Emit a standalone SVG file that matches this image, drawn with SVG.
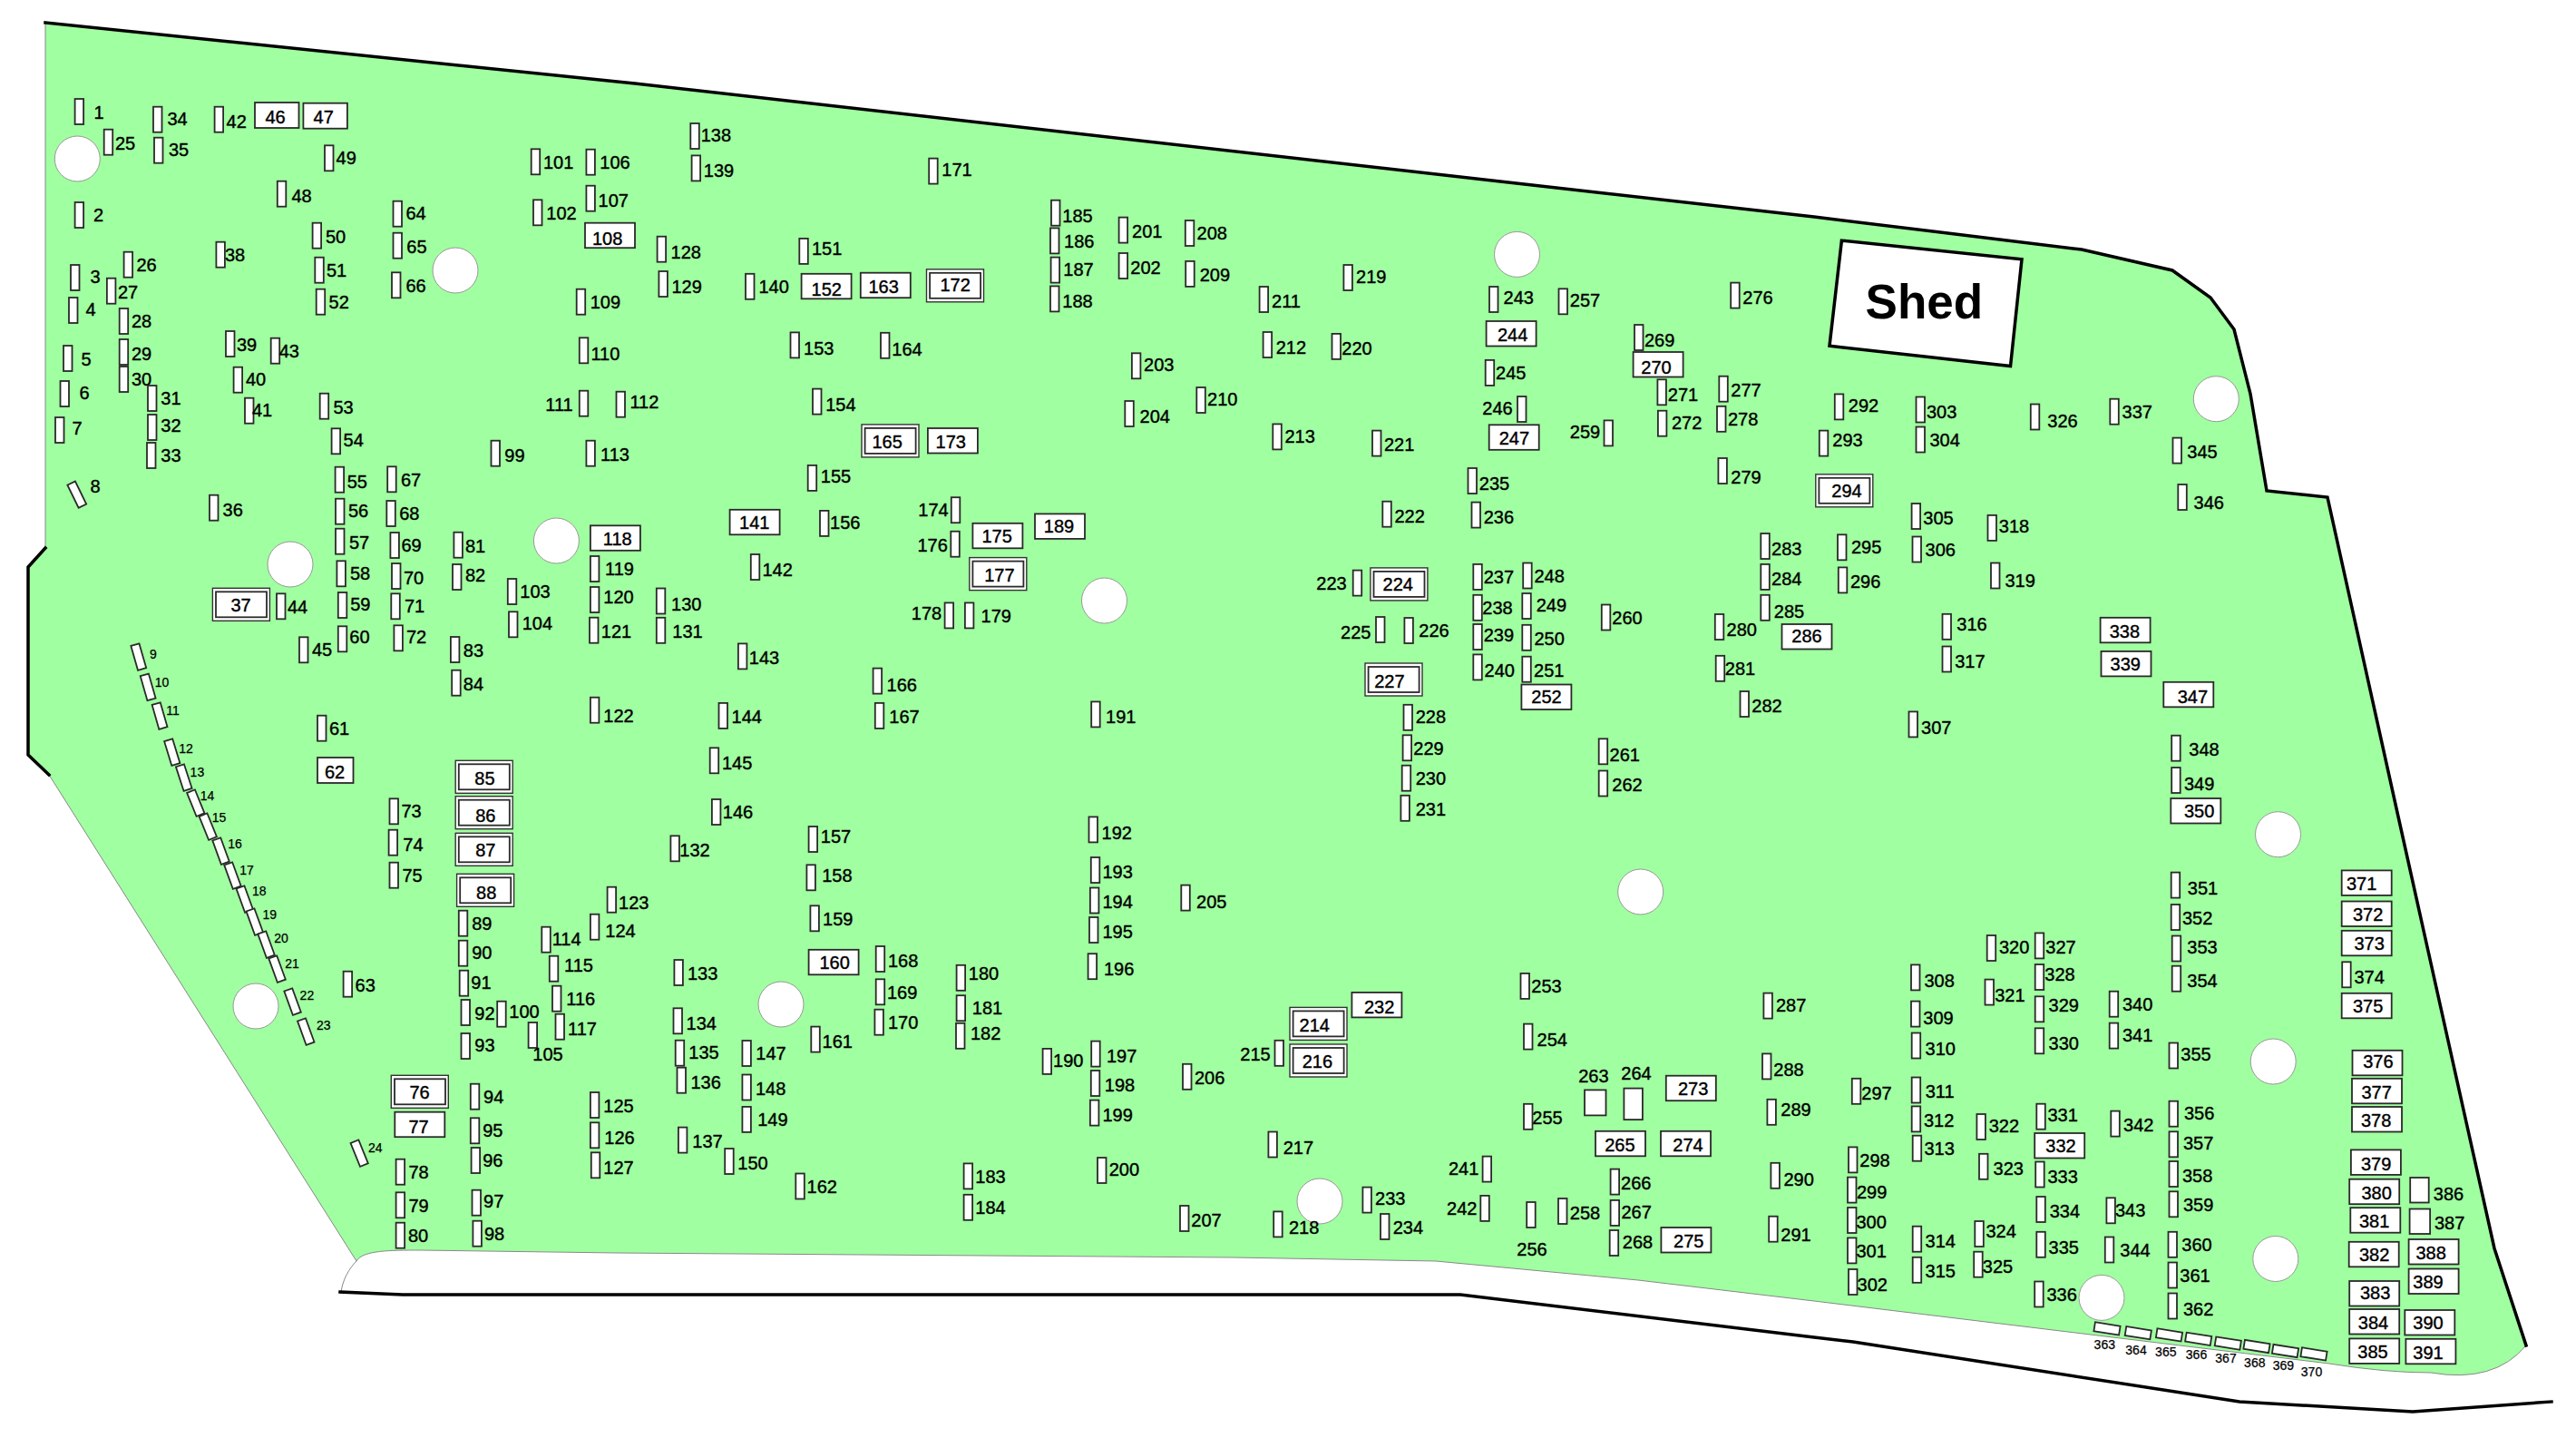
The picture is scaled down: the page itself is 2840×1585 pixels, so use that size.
<svg xmlns="http://www.w3.org/2000/svg" width="2840" height="1585" viewBox="0 0 2840 1585">
<style>
text{font-family:"Liberation Sans",Arial,sans-serif;font-size:20px;fill:#000;stroke:#000;stroke-width:.4px;text-anchor:middle}
text.m{font-size:14px;stroke-width:.25px}
rect{fill:#fff;stroke:#2a2a2a;stroke-width:1.8}
.s{width:9.5px;height:28px}
.h{width:28px;height:10px}
.b{width:55px;height:27.5px}
.o{width:63px;height:36px;stroke:#333;stroke-width:1.4}
.i{width:56px;height:28px}
circle{fill:#fff;stroke:#999;stroke-width:1}
.k{fill:none;stroke:#000;stroke-width:3.5;stroke-linecap:square}
.t{fill:none;stroke:#888;stroke-width:1}
</style>
<g id="ground">
<path d="M50,25L700,92L1654,200L2000,239L2295,275L2395,298L2437,328L2463,363L2481,434L2499,541L2566,548L2644,900L2750,1376L2785,1483Q2750,1525 2680,1513Q2630,1513 2568,1503L2000,1434L1806,1411L1583,1390L1360,1386L680,1381L464,1378C430,1378 400,1378 393,1390L54,854L31,832L31,625L50,604Z" fill="#a0ffa0"/>
<path class="t" d="M50,25L50,604M54,854L393,1390C385,1398 378,1410 376,1424M393,1390C400,1378 430,1378 464,1378L680,1381L1360,1386L1583,1390L1806,1411L2000,1434L2568,1503Q2630,1513 2680,1513Q2750,1525 2785,1483"/>
<path class="k" d="M50,25L700,92L1654,200L2000,239L2295,275L2395,298L2437,328L2463,363L2481,434L2499,541L2566,548L2644,900L2750,1376L2785,1483"/>
<path class="k" d="M50,604L31,625L31,832L54,854"/>
<path class="k" d="M375,1424L444,1427L1610,1427L2000,1474L2043,1479L2469,1545L2660,1556L2813,1545"/>
</g>
<g id="trees">
<circle cx="85.3" cy="175" r="25"/><circle cx="502" cy="298" r="25"/><circle cx="320" cy="622" r="25"/><circle cx="613.4" cy="596" r="25"/><circle cx="282" cy="1109" r="25"/><circle cx="861" cy="1107" r="25"/><circle cx="1217.5" cy="662" r="25"/><circle cx="1672.5" cy="280.4" r="25"/><circle cx="1455" cy="1324" r="25"/><circle cx="1808.7" cy="983" r="25"/><circle cx="2443.3" cy="439.7" r="25"/><circle cx="2511.5" cy="919.7" r="25"/><circle cx="2506.2" cy="1170" r="25"/><circle cx="2508.8" cy="1387.5" r="25"/><circle cx="2317" cy="1430.4" r="25"/>
</g>
<g id="shed"><path d="M2030.4,265.2L2229,285.7L2216.5,403.6L2017,381.3Z" fill="#fff" stroke="#000" stroke-width="3.5"/><text x="2121.4" y="351" style="font-size:53px;font-weight:700;stroke-width:0">Shed</text></g>
<g id="connectors"></g>
<g id="nodes">
<g id="n1"><rect class="s" x="82.6" y="109"/><text x="109" y="131">1</text></g>
<g id="n2"><rect class="s" x="82.6" y="223"/><text x="108.5" y="244">2</text></g>
<g id="n3"><rect class="s" x="78" y="292"/><text x="105" y="312">3</text></g>
<g id="n4"><rect class="s" x="76" y="328"/><text x="100" y="348">4</text></g>
<g id="n5"><rect class="s" x="70" y="381"/><text x="95" y="403">5</text></g>
<g id="n6"><rect class="s" x="66.5" y="420"/><text x="93" y="440">6</text></g>
<g id="n7"><rect class="s" x="61" y="460"/><text x="85" y="479">7</text></g>
<g id="n8"><rect class="s" x="80" y="531" transform="rotate(-26 85 545)"/><text x="105" y="543">8</text></g>
<g id="n9"><rect class="s" x="148" y="710" transform="rotate(-16 153 724)"/><text class="m" x="169" y="726">9</text></g>
<g id="n10"><rect class="s" x="158.4" y="743.3" transform="rotate(-16 163.4 757.3)"/><text class="m" x="178.6" y="757">10</text></g>
<g id="n11"><rect class="s" x="171.3" y="775" transform="rotate(-16 176.3 789)"/><text class="m" x="190.6" y="788">11</text></g>
<g id="n12"><rect class="s" x="185" y="815" transform="rotate(-17 190 829)"/><text class="m" x="205" y="830">12</text></g>
<g id="n13"><rect class="s" x="198" y="843" transform="rotate(-18 203 857)"/><text class="m" x="217.4" y="856">13</text></g>
<g id="n14"><rect class="s" x="211" y="871" transform="rotate(-22 216 885)"/><text class="m" x="228.6" y="882">14</text></g>
<g id="n15"><rect class="s" x="224.5" y="897" transform="rotate(-22 229.5 911)"/><text class="m" x="241.5" y="906">15</text></g>
<g id="n16"><rect class="s" x="238.8" y="924" transform="rotate(-20 243.8 938)"/><text class="m" x="259" y="935">16</text></g>
<g id="n17"><rect class="s" x="251.7" y="951" transform="rotate(-20 256.7 965)"/><text class="m" x="272" y="964">17</text></g>
<g id="n18"><rect class="s" x="265" y="977" transform="rotate(-20 270 991)"/><text class="m" x="285.7" y="987">18</text></g>
<g id="n19"><rect class="s" x="276" y="1002" transform="rotate(-20 281 1016)"/><text class="m" x="297.3" y="1013">19</text></g>
<g id="n20"><rect class="s" x="288.8" y="1027" transform="rotate(-20 293.8 1041)"/><text class="m" x="310" y="1039">20</text></g>
<g id="n21"><rect class="s" x="300.8" y="1054" transform="rotate(-20 305.8 1068)"/><text class="m" x="322" y="1067">21</text></g>
<g id="n22"><rect class="s" x="317.8" y="1090" transform="rotate(-20 322.8 1104)"/><text class="m" x="338.4" y="1102">22</text></g>
<g id="n23"><rect class="s" x="332.5" y="1123" transform="rotate(-20 337.5 1137)"/><text class="m" x="356.7" y="1135">23</text></g>
<g id="n24"><rect class="s" x="391.4" y="1257" transform="rotate(-22 396.4 1271)"/><text class="m" x="413.8" y="1270">24</text></g>
<g id="n25"><rect class="s" x="114.7" y="142.7"/><text x="138" y="165">25</text></g>
<g id="n26"><rect class="s" x="136.6" y="277.7"/><text x="161.6" y="299">26</text></g>
<g id="n27"><rect class="s" x="117.9" y="306.7"/><text x="141" y="329">27</text></g>
<g id="n28"><rect class="s" x="131.7" y="340"/><text x="156" y="361">28</text></g>
<g id="n29"><rect class="s" x="131.7" y="374"/><text x="156" y="397">29</text></g>
<g id="n30"><rect class="s" x="131.7" y="404"/><text x="156" y="425">30</text></g>
<g id="n31"><rect class="s" x="163" y="425"/><text x="188.4" y="446">31</text></g>
<g id="n32"><rect class="s" x="163" y="457"/><text x="188.4" y="476">32</text></g>
<g id="n33"><rect class="s" x="162" y="488"/><text x="188.4" y="509">33</text></g>
<g id="n34"><rect class="s" x="169" y="117.7"/><text x="195.5" y="138">34</text></g>
<g id="n35"><rect class="s" x="170" y="151.7"/><text x="197" y="172">35</text></g>
<g id="n36"><rect class="s" x="231" y="545.7"/><text x="256.7" y="569">36</text></g>
<g id="n37"><rect class="o" x="234.4" y="648.3"/><rect class="i" x="238" y="652.3"/><text x="265.6" y="674">37</text></g>
<g id="n38"><rect class="s" x="238.4" y="266.7"/><text x="259" y="288">38</text></g>
<g id="n39"><rect class="s" x="249" y="365"/><text x="272" y="387">39</text></g>
<g id="n40"><rect class="s" x="257.6" y="404.7"/><text x="282" y="425">40</text></g>
<g id="n41"><rect class="s" x="270" y="438.7"/><text x="289" y="459">41</text></g>
<g id="n42"><rect class="s" x="236.6" y="117.7"/><text x="260.7" y="141">42</text></g>
<g id="n43"><rect class="s" x="298.7" y="372.7"/><text x="318.8" y="394">43</text></g>
<g id="n44"><rect class="s" x="305" y="654.3"/><text x="328" y="676">44</text></g>
<g id="n45"><rect class="s" x="330" y="702.3"/><text x="355" y="723">45</text></g>
<g id="n46"><rect x="281" y="113" width="48.5" height="28"/><text x="303.6" y="136">46</text></g>
<g id="n47"><rect x="334.4" y="113.7" width="48.5" height="28"/><text x="356.7" y="136">47</text></g>
<g id="n48"><rect class="s" x="305.8" y="199.7"/><text x="332.6" y="223">48</text></g>
<g id="n49"><rect class="s" x="358" y="160.3"/><text x="381.7" y="181">49</text></g>
<g id="n50"><rect class="s" x="344.6" y="245.7"/><text x="370" y="268">50</text></g>
<g id="n51"><rect class="s" x="347.3" y="283.7"/><text x="371" y="305">51</text></g>
<g id="n52"><rect class="s" x="348.7" y="318.7"/><text x="373.7" y="340">52</text></g>
<g id="n53"><rect class="s" x="352.7" y="433.7"/><text x="378.6" y="456">53</text></g>
<g id="n54"><rect class="s" x="365.6" y="472.3"/><text x="389.7" y="492">54</text></g>
<g id="n55"><rect class="s" x="369.6" y="514.7"/><text x="393.8" y="538">55</text></g>
<g id="n56"><rect class="s" x="370" y="549.7"/><text x="395" y="570">56</text></g>
<g id="n57"><rect class="s" x="370" y="582.7"/><text x="396" y="605">57</text></g>
<g id="n58"><rect class="s" x="371.4" y="618.3"/><text x="397" y="639">58</text></g>
<g id="n59"><rect class="s" x="372.8" y="653"/><text x="397.3" y="673">59</text></g>
<g id="n60"><rect class="s" x="372.8" y="690.3"/><text x="396.4" y="709">60</text></g>
<g id="n61"><rect class="s" x="350" y="788.7"/><text x="374" y="810">61</text></g>
<g id="n62"><rect x="350" y="835" width="39.5" height="28"/><text x="369" y="858">62</text></g>
<g id="n63"><rect class="s" x="378.6" y="1070.7"/><text x="402.7" y="1093">63</text></g>
<g id="n64"><rect class="s" x="433.5" y="221.7"/><text x="458.5" y="242">64</text></g>
<g id="n65"><rect class="s" x="433.5" y="256.7"/><text x="459.4" y="279">65</text></g>
<g id="n66"><rect class="s" x="432" y="300.3"/><text x="458.5" y="322">66</text></g>
<g id="n67"><rect class="s" x="427.2" y="514.3"/><text x="453" y="536">67</text></g>
<g id="n68"><rect class="s" x="426.3" y="552"/><text x="451.3" y="573">68</text></g>
<g id="n69"><rect class="s" x="430.4" y="587"/><text x="453.6" y="608">69</text></g>
<g id="n70"><rect class="s" x="432" y="621"/><text x="456" y="644">70</text></g>
<g id="n71"><rect class="s" x="431.3" y="654.3"/><text x="457" y="675">71</text></g>
<g id="n72"><rect class="s" x="434.4" y="689.3"/><text x="459" y="709">72</text></g>
<g id="n73"><rect class="s" x="429.5" y="880.3"/><text x="453.6" y="901">73</text></g>
<g id="n74"><rect class="s" x="428.6" y="914.7"/><text x="455.4" y="938">74</text></g>
<g id="n75"><rect class="s" x="429.5" y="950.7"/><text x="454.5" y="972">75</text></g>
<g id="n76"><rect class="o" x="431.3" y="1185.3"/><rect class="i" x="435" y="1189.3"/><text x="462.5" y="1211">76</text></g>
<g id="n77"><rect class="b" x="435.3" y="1225.7"/><text x="461.6" y="1249">77</text></g>
<g id="n78"><rect class="s" x="436.6" y="1277.7"/><text x="461.6" y="1299">78</text></g>
<g id="n79"><rect class="s" x="436.6" y="1314.3"/><text x="461.6" y="1336">79</text></g>
<g id="n80"><rect class="s" x="436.6" y="1347.7"/><text x="461" y="1369">80</text></g>
<g id="n81"><rect class="s" x="500.4" y="586.7"/><text x="524" y="609">81</text></g>
<g id="n82"><rect class="s" x="499" y="622"/><text x="524" y="641">82</text></g>
<g id="n83"><rect class="s" x="496.9" y="702"/><text x="521.9" y="724">83</text></g>
<g id="n84"><rect class="s" x="498.2" y="738.7"/><text x="521.9" y="761">84</text></g>
<g id="n85"><rect class="o" x="502.2" y="838.3"/><rect class="i" x="505.8" y="842.3"/><text x="534.4" y="865">85</text></g>
<g id="n86"><rect class="o" x="502.2" y="877.7"/><rect class="i" x="505.8" y="881.7"/><text x="535.3" y="906">86</text></g>
<g id="n87"><rect class="o" x="502.2" y="918.3"/><rect class="i" x="505.8" y="922.3"/><text x="535.3" y="944">87</text></g>
<g id="n88"><rect class="o" x="503.6" y="963.3"/><rect class="i" x="507.2" y="967.3"/><text x="536.2" y="991">88</text></g>
<g id="n89"><rect class="s" x="505.8" y="1003.7"/><text x="531.3" y="1025">89</text></g>
<g id="n90"><rect class="s" x="505.8" y="1036.7"/><text x="531.3" y="1057">90</text></g>
<g id="n91"><rect class="s" x="506.7" y="1069.7"/><text x="530.4" y="1090">91</text></g>
<g id="n92"><rect class="s" x="508.5" y="1102"/><text x="534.4" y="1124">92</text></g>
<g id="n93"><rect class="s" x="508.5" y="1139"/><text x="534.4" y="1159">93</text></g>
<g id="n94"><rect class="s" x="518.8" y="1194.7"/><text x="544.2" y="1216">94</text></g>
<g id="n95"><rect class="s" x="518.8" y="1232.3"/><text x="543.3" y="1253">95</text></g>
<g id="n96"><rect class="s" x="519.6" y="1265"/><text x="543.3" y="1286">96</text></g>
<g id="n97"><rect class="s" x="520.5" y="1311.7"/><text x="544.2" y="1331">97</text></g>
<g id="n98"><rect class="s" x="521.4" y="1345.7"/><text x="545" y="1367">98</text></g>
<g id="n99"><rect class="s" x="541.5" y="485.7"/><text x="567.4" y="509">99</text></g>
<g id="n100"><rect class="s" x="548.2" y="1103.7"/><text x="578" y="1122">100</text></g>
<g id="n101"><rect class="s" x="585.7" y="164.3"/><text x="615.6" y="186">101</text></g>
<g id="n102"><rect class="s" x="588" y="220.3"/><text x="619" y="242">102</text></g>
<g id="n103"><rect class="s" x="559.8" y="638"/><text x="590" y="659">103</text></g>
<g id="n104"><rect class="s" x="561" y="674.3"/><text x="592.4" y="694">104</text></g>
<g id="n105"><rect class="s" x="582.6" y="1127"/><text x="604" y="1169">105</text></g>
<g id="n106"><rect class="s" x="646.4" y="164.7"/><text x="678" y="186">106</text></g>
<g id="n107"><rect class="s" x="646.4" y="204.7"/><text x="676.3" y="228">107</text></g>
<g id="n108"><rect class="b" x="645" y="245.7"/><text x="669.6" y="270">108</text></g>
<g id="n109"><rect class="s" x="635.7" y="318.7"/><text x="667.4" y="340">109</text></g>
<g id="n110"><rect class="s" x="638.8" y="372.3"/><text x="667.4" y="397">110</text></g>
<g id="n111"><rect class="s" x="638.8" y="430.7"/><text x="616.5" y="453">111</text></g>
<g id="n112"><rect class="s" x="679.5" y="431.7"/><text x="710.4" y="450">112</text></g>
<g id="n113"><rect class="s" x="646.4" y="485.7"/><text x="678" y="508">113</text></g>
<g id="n114"><rect class="s" x="597.3" y="1021.7"/><text x="624.6" y="1042">114</text></g>
<g id="n115"><rect class="s" x="605.8" y="1053.7"/><text x="638" y="1071">115</text></g>
<g id="n116"><rect class="s" x="609" y="1086.7"/><text x="640.2" y="1108">116</text></g>
<g id="n117"><rect class="s" x="612.5" y="1117.7"/><text x="642" y="1141">117</text></g>
<g id="n118"><rect class="b" x="650.9" y="579.3"/><text x="680.8" y="601">118</text></g>
<g id="n119"><rect class="s" x="650.9" y="613"/><text x="683" y="634">119</text></g>
<g id="n120"><rect class="s" x="650.9" y="647"/><text x="682" y="665">120</text></g>
<g id="n121"><rect class="s" x="650" y="680.7"/><text x="679.5" y="703">121</text></g>
<g id="n122"><rect class="s" x="650.9" y="768.7"/><text x="682" y="796">122</text></g>
<g id="n123"><rect class="s" x="669.6" y="977.7"/><text x="698.8" y="1002">123</text></g>
<g id="n124"><rect class="s" x="650.9" y="1007.7"/><text x="684" y="1033">124</text></g>
<g id="n125"><rect class="s" x="650.9" y="1204"/><text x="682" y="1226">125</text></g>
<g id="n126"><rect class="s" x="650.9" y="1237.3"/><text x="683" y="1261">126</text></g>
<g id="n127"><rect class="s" x="651.8" y="1270.3"/><text x="682" y="1294">127</text></g>
<g id="n128"><rect class="s" x="724.6" y="260.7"/><text x="756.3" y="285">128</text></g>
<g id="n129"><rect class="s" x="726.4" y="299"/><text x="757.2" y="323">129</text></g>
<g id="n130"><rect class="s" x="723.8" y="648.5"/><text x="756.8" y="673">130</text></g>
<g id="n131"><rect class="s" x="723.8" y="680.8"/><text x="758" y="703">131</text></g>
<g id="n132"><rect class="s" x="739.4" y="921.3"/><text x="766" y="944">132</text></g>
<g id="n133"><rect class="s" x="743.4" y="1058"/><text x="774.6" y="1080">133</text></g>
<g id="n134"><rect class="s" x="742.5" y="1111.3"/><text x="773.3" y="1135">134</text></g>
<g id="n135"><rect class="s" x="744.7" y="1146.7"/><text x="776" y="1167">135</text></g>
<g id="n136"><rect class="s" x="746.5" y="1176.7"/><text x="778.2" y="1200">136</text></g>
<g id="n137"><rect class="s" x="747.9" y="1242.6"/><text x="780" y="1265">137</text></g>
<g id="n138"><rect class="s" x="761.3" y="136"/><text x="789.4" y="156">138</text></g>
<g id="n139"><rect class="s" x="762.6" y="171.4"/><text x="792.5" y="195">139</text></g>
<g id="n140"><rect class="s" x="822" y="301.8"/><text x="853.2" y="323">140</text></g>
<g id="n141"><rect class="b" x="804.6" y="561.8"/><text x="831.8" y="583">141</text></g>
<g id="n142"><rect class="s" x="827.8" y="611"/><text x="857.2" y="635">142</text></g>
<g id="n143"><rect class="s" x="813.9" y="709.4"/><text x="842.5" y="732">143</text></g>
<g id="n144"><rect class="s" x="792.5" y="774.9"/><text x="823.3" y="797">144</text></g>
<g id="n145"><rect class="s" x="782.7" y="824.3"/><text x="812.6" y="848">145</text></g>
<g id="n146"><rect class="s" x="784.9" y="881"/><text x="813.5" y="902">146</text></g>
<g id="n147"><rect class="s" x="818.4" y="1147"/><text x="850" y="1168">147</text></g>
<g id="n148"><rect class="s" x="818.4" y="1184.5"/><text x="849.6" y="1207">148</text></g>
<g id="n149"><rect class="s" x="818.4" y="1219.9"/><text x="851.9" y="1241">149</text></g>
<g id="n150"><rect class="s" x="799.2" y="1266"/><text x="830" y="1289">150</text></g>
<g id="n151"><rect class="s" x="881.3" y="262.9"/><text x="911.7" y="281">151</text></g>
<g id="n152"><rect class="b" x="883.6" y="301.8"/><text x="911.3" y="326">152</text></g>
<g id="n153"><rect class="s" x="871.5" y="366.4"/><text x="902.8" y="391">153</text></g>
<g id="n154"><rect class="s" x="896" y="428.6"/><text x="926.9" y="453">154</text></g>
<g id="n155"><rect class="s" x="890.7" y="512.9"/><text x="921.5" y="532">155</text></g>
<g id="n156"><rect class="s" x="904" y="562.9"/><text x="931.8" y="583">156</text></g>
<g id="n157"><rect class="s" x="891.6" y="911"/><text x="921.5" y="929">157</text></g>
<g id="n158"><rect class="s" x="889.4" y="953.3"/><text x="922.9" y="972">158</text></g>
<g id="n159"><rect class="s" x="893.4" y="998.3"/><text x="923.8" y="1020">159</text></g>
<g id="n160"><rect class="b" x="891.6" y="1046.8"/><text x="920.2" y="1068">160</text></g>
<g id="n161"><rect class="s" x="894.3" y="1131.6"/><text x="923.3" y="1155">161</text></g>
<g id="n162"><rect class="s" x="877.3" y="1293.5"/><text x="906.3" y="1315">162</text></g>
<g id="n163"><rect class="b" x="948.8" y="300.7"/><text x="974.2" y="323">163</text></g>
<g id="n164"><rect class="s" x="971" y="366.8"/><text x="1000" y="392">164</text></g>
<g id="n165"><rect class="o" x="950" y="467.9"/><rect class="i" x="953.6" y="471.9"/><text x="978.2" y="494">165</text></g>
<g id="n166"><rect class="s" x="962.6" y="736.6"/><text x="994.3" y="762">166</text></g>
<g id="n167"><rect class="s" x="964.8" y="774.9"/><text x="997" y="797">167</text></g>
<g id="n168"><rect class="s" x="965.7" y="1043"/><text x="995.6" y="1066">168</text></g>
<g id="n169"><rect class="s" x="965.7" y="1079.3"/><text x="994.7" y="1101">169</text></g>
<g id="n170"><rect class="s" x="964.4" y="1112.7"/><text x="995.6" y="1134">170</text></g>
<g id="n171"><rect class="s" x="1024.2" y="174.6"/><text x="1055" y="194">171</text></g>
<g id="n172"><rect class="o" x="1021.5" y="296.8"/><rect class="i" x="1025.1" y="300.8"/><text x="1053.2" y="321">172</text></g>
<g id="n173"><rect class="b" x="1022.9" y="472"/><text x="1048.3" y="494">173</text></g>
<g id="n174"><rect class="s" x="1048.8" y="548.2"/><text x="1029" y="569">174</text></g>
<g id="n175"><rect class="b" x="1072.4" y="576.8"/><text x="1099.2" y="598">175</text></g>
<g id="n176"><rect class="s" x="1048.3" y="585.7"/><text x="1028.2" y="608">176</text></g>
<g id="n177"><rect class="o" x="1068.8" y="614.6"/><rect class="i" x="1072.4" y="618.6"/><text x="1101.9" y="641">177</text></g>
<g id="n178"><rect class="s" x="1041.6" y="664.4"/><text x="1021.5" y="683">178</text></g>
<g id="n179"><rect class="s" x="1063.9" y="664.4"/><text x="1098.3" y="686">179</text></g>
<g id="n180"><rect class="s" x="1054.6" y="1063.8"/><text x="1084.5" y="1080">180</text></g>
<g id="n181"><rect class="s" x="1054.6" y="1097.2"/><text x="1088.5" y="1118">181</text></g>
<g id="n182"><rect class="s" x="1054" y="1127.8"/><text x="1086.7" y="1146">182</text></g>
<g id="n183"><rect class="s" x="1062.6" y="1282.4"/><text x="1092" y="1304">183</text></g>
<g id="n184"><rect class="s" x="1062.6" y="1316.8"/><text x="1092" y="1338">184</text></g>
<g id="n185"><rect class="s" x="1159" y="220.7"/><text x="1188" y="245">185</text></g>
<g id="n186"><rect class="s" x="1158" y="251.4"/><text x="1189.8" y="273">186</text></g>
<g id="n187"><rect class="s" x="1158.6" y="283.6"/><text x="1189" y="304">187</text></g>
<g id="n188"><rect class="s" x="1158" y="315.4"/><text x="1188" y="339">188</text></g>
<g id="n189"><rect class="b" x="1141" y="566.4"/><text x="1167.5" y="587">189</text></g>
<g id="n190"><rect class="s" x="1149.6" y="1155.9"/><text x="1177.8" y="1176">190</text></g>
<g id="n191"><rect class="s" x="1203.2" y="773.4"/><text x="1235.8" y="797">191</text></g>
<g id="n192"><rect class="s" x="1200.5" y="900.4"/><text x="1231.3" y="925">192</text></g>
<g id="n193"><rect class="s" x="1202.8" y="945"/><text x="1232.2" y="968">193</text></g>
<g id="n194"><rect class="s" x="1201.9" y="978.5"/><text x="1232.2" y="1001">194</text></g>
<g id="n195"><rect class="s" x="1201" y="1011"/><text x="1232.2" y="1034">195</text></g>
<g id="n196"><rect class="s" x="1199.6" y="1051.2"/><text x="1233.6" y="1075">196</text></g>
<g id="n197"><rect class="s" x="1203.2" y="1147.6"/><text x="1236.7" y="1171">197</text></g>
<g id="n198"><rect class="s" x="1202.8" y="1180"/><text x="1234.5" y="1203">198</text></g>
<g id="n199"><rect class="s" x="1201.9" y="1212.6"/><text x="1232.2" y="1236">199</text></g>
<g id="n200"><rect class="s" x="1210" y="1276"/><text x="1239.4" y="1296">200</text></g>
<g id="n201"><rect class="s" x="1233.6" y="239.6"/><text x="1264.8" y="262">201</text></g>
<g id="n202"><rect class="s" x="1233.6" y="279"/><text x="1263" y="302">202</text></g>
<g id="n203"><rect class="s" x="1247.9" y="389.3"/><text x="1277.8" y="409">203</text></g>
<g id="n204"><rect class="s" x="1240.3" y="442"/><text x="1273.3" y="466">204</text></g>
<g id="n205"><rect class="s" x="1302.3" y="975.6"/><text x="1335.8" y="1001">205</text></g>
<g id="n206"><rect class="s" x="1304" y="1172.8"/><text x="1333.6" y="1195">206</text></g>
<g id="n207"><rect class="s" x="1301" y="1329"/><text x="1330" y="1352">207</text></g>
<g id="n208"><rect class="s" x="1306.8" y="243"/><text x="1336.3" y="264">208</text></g>
<g id="n209"><rect class="s" x="1307.2" y="287.9"/><text x="1339.4" y="310">209</text></g>
<g id="n210"><rect class="s" x="1319.3" y="427"/><text x="1347.8" y="447">210</text></g>
<g id="n211"><rect class="s" x="1388.6" y="316"/><text x="1418" y="339">211</text></g>
<g id="n212"><rect class="s" x="1392.6" y="366"/><text x="1423.4" y="390">212</text></g>
<g id="n213"><rect class="s" x="1403.3" y="467.4"/><text x="1433.2" y="488">213</text></g>
<g id="n214"><rect class="o" x="1422" y="1110.4"/><rect class="i" x="1425.6" y="1114.4"/><text x="1449.3" y="1137">214</text></g>
<g id="n215"><rect class="s" x="1405.5" y="1146.8"/><text x="1384" y="1169">215</text></g>
<g id="n216"><rect class="o" x="1422" y="1151"/><rect class="i" x="1425.6" y="1155"/><text x="1452.4" y="1177">216</text></g>
<g id="n217"><rect class="s" x="1398.4" y="1247.5"/><text x="1431.4" y="1272">217</text></g>
<g id="n218"><rect class="s" x="1404.2" y="1335.4"/><text x="1437.7" y="1360">218</text></g>
<g id="n219"><rect class="s" x="1481.4" y="292"/><text x="1511.8" y="312">219</text></g>
<g id="n220"><rect class="s" x="1468.5" y="367.9"/><text x="1496" y="391">220</text></g>
<g id="n221"><rect class="s" x="1513" y="474.6"/><text x="1542.6" y="497">221</text></g>
<g id="n222"><rect class="s" x="1524.3" y="552.7"/><text x="1554.2" y="576">222</text></g>
<g id="n223"><rect class="s" x="1491.7" y="628.6"/><text x="1468" y="650">223</text></g>
<g id="n224"><rect class="o" x="1510.9" y="625.9"/><rect class="i" x="1514.5" y="629.9"/><text x="1541.3" y="651">224</text></g>
<g id="n225"><rect class="s" x="1517" y="680"/><text x="1494.8" y="704">225</text></g>
<g id="n226"><rect class="s" x="1548.4" y="681"/><text x="1581" y="702">226</text></g>
<g id="n227"><rect class="o" x="1505" y="731"/><rect class="i" x="1508.6" y="735"/><text x="1531.9" y="758">227</text></g>
<g id="n228"><rect class="s" x="1547.5" y="776.8"/><text x="1577.4" y="797">228</text></g>
<g id="n229"><rect class="s" x="1546.6" y="810.3"/><text x="1575" y="832">229</text></g>
<g id="n230"><rect class="s" x="1545.7" y="843.7"/><text x="1577.4" y="865">230</text></g>
<g id="n231"><rect class="s" x="1544.4" y="876.8"/><text x="1577.4" y="899">231</text></g>
<g id="n232"><rect class="b" x="1490.4" y="1093.9"/><text x="1520.7" y="1117">232</text></g>
<g id="n233"><rect class="s" x="1502.4" y="1308.6"/><text x="1532.8" y="1328">233</text></g>
<g id="n234"><rect class="s" x="1522" y="1338"/><text x="1552.4" y="1360">234</text></g>
<g id="n235"><rect class="s" x="1618.5" y="516"/><text x="1647.5" y="540">235</text></g>
<g id="n236"><rect class="s" x="1622.5" y="553.6"/><text x="1652.4" y="577">236</text></g>
<g id="n237"><rect class="s" x="1624.3" y="621.9"/><text x="1652.4" y="643">237</text></g>
<g id="n238"><rect class="s" x="1624.3" y="655.8"/><text x="1651" y="677">238</text></g>
<g id="n239"><rect class="s" x="1624.3" y="688"/><text x="1652.4" y="707">239</text></g>
<g id="n240"><rect class="s" x="1624.3" y="721.4"/><text x="1653.3" y="746">240</text></g>
<g id="n241"><rect class="s" x="1634.6" y="1274.6"/><text x="1613.6" y="1295">241</text></g>
<g id="n242"><rect class="s" x="1632.3" y="1317.9"/><text x="1611.8" y="1339">242</text></g>
<g id="n243"><rect class="s" x="1642" y="316"/><text x="1674.3" y="335">243</text></g>
<g id="n244"><rect class="b" x="1638.6" y="354"/><text x="1667.6" y="376">244</text></g>
<g id="n245"><rect class="s" x="1637.7" y="396.9"/><text x="1665.8" y="418">245</text></g>
<g id="n246"><rect class="s" x="1673" y="437"/><text x="1651" y="457">246</text></g>
<g id="n247"><rect class="b" x="1641.7" y="468.3"/><text x="1669.4" y="490">247</text></g>
<g id="n248"><rect class="s" x="1679.2" y="620.5"/><text x="1708.2" y="642">248</text></g>
<g id="n249"><rect class="s" x="1678.3" y="654"/><text x="1710.4" y="674">249</text></g>
<g id="n250"><rect class="s" x="1678.3" y="688.8"/><text x="1708.2" y="711">250</text></g>
<g id="n251"><rect class="s" x="1678.3" y="723.7"/><text x="1707.8" y="746">251</text></g>
<g id="n252"><rect class="b" x="1677.4" y="754.5"/><text x="1705" y="775">252</text></g>
<g id="n253"><rect class="s" x="1676.5" y="1072.9"/><text x="1705" y="1094">253</text></g>
<g id="n254"><rect class="s" x="1680" y="1128.6"/><text x="1711.3" y="1153">254</text></g>
<g id="n255"><rect class="s" x="1680" y="1216.8"/><text x="1706" y="1239">255</text></g>
<g id="n256"><rect class="s" x="1683.2" y="1325"/><text x="1689" y="1384">256</text></g>
<g id="n257"><rect class="s" x="1718.5" y="318.3"/><text x="1747.5" y="338">257</text></g>
<g id="n258"><rect class="s" x="1718" y="1321"/><text x="1747.5" y="1344">258</text></g>
<g id="n259"><rect class="s" x="1768.5" y="463.4"/><text x="1747.5" y="483">259</text></g>
<g id="n260"><rect class="s" x="1765.8" y="666.5"/><text x="1794" y="688">260</text></g>
<g id="n261"><rect class="s" x="1762.7" y="814.3"/><text x="1791.3" y="839">261</text></g>
<g id="n262"><rect class="s" x="1762.7" y="849.5"/><text x="1794" y="872">262</text></g>
<g id="n263"><rect x="1747" y="1201.4" width="23.5" height="28"/><text x="1756.9" y="1193">263</text></g>
<g id="n264"><rect x="1790.4" y="1199.6" width="20.5" height="34.5"/><text x="1804" y="1190">264</text></g>
<g id="n265"><rect class="b" x="1759" y="1246.8"/><text x="1785.9" y="1269">265</text></g>
<g id="n266"><rect class="s" x="1775.6" y="1288.6"/><text x="1803.8" y="1311">266</text></g>
<g id="n267"><rect class="s" x="1775.6" y="1322.9"/><text x="1804.2" y="1343">267</text></g>
<g id="n268"><rect class="s" x="1774.7" y="1356"/><text x="1805.5" y="1376">268</text></g>
<g id="n269"><rect class="s" x="1802" y="358"/><text x="1829.6" y="382">269</text></g>
<g id="n270"><rect class="b" x="1800.6" y="388"/><text x="1826" y="412">270</text></g>
<g id="n271"><rect class="s" x="1827.4" y="418.3"/><text x="1855.5" y="442">271</text></g>
<g id="n272"><rect class="s" x="1827.9" y="452.7"/><text x="1859.6" y="473">272</text></g>
<g id="n273"><rect class="b" x="1836.8" y="1185.7"/><text x="1866.7" y="1207">273</text></g>
<g id="n274"><rect class="b" x="1831" y="1246.8"/><text x="1861" y="1269">274</text></g>
<g id="n275"><rect class="b" x="1831.4" y="1353"/><text x="1861.8" y="1375">275</text></g>
<g id="n276"><rect class="s" x="1908.2" y="311.6"/><text x="1938" y="335">276</text></g>
<g id="n277"><rect class="s" x="1895.3" y="414.7"/><text x="1925" y="437">277</text></g>
<g id="n278"><rect class="s" x="1893" y="447.8"/><text x="1921.6" y="469">278</text></g>
<g id="n279"><rect class="s" x="1894.4" y="505"/><text x="1925" y="533">279</text></g>
<g id="n280"><rect class="s" x="1890.8" y="677"/><text x="1920.3" y="701">280</text></g>
<g id="n281"><rect class="s" x="1891.7" y="722.8"/><text x="1918.5" y="744">281</text></g>
<g id="n282"><rect class="s" x="1918.5" y="762"/><text x="1948" y="785">282</text></g>
<g id="n283"><rect class="s" x="1941.3" y="588"/><text x="1969.8" y="612">283</text></g>
<g id="n284"><rect class="s" x="1941.3" y="621.9"/><text x="1969.8" y="645">284</text></g>
<g id="n285"><rect class="s" x="1941.3" y="655.8"/><text x="1972.5" y="681">285</text></g>
<g id="n286"><rect class="b" x="1964.5" y="688"/><text x="1992" y="708">286</text></g>
<g id="n287"><rect class="s" x="1944.4" y="1094.6"/><text x="1974.7" y="1115">287</text></g>
<g id="n288"><rect class="s" x="1943" y="1161.4"/><text x="1972" y="1186">288</text></g>
<g id="n289"><rect class="s" x="1948.4" y="1211.8"/><text x="1980" y="1230">289</text></g>
<g id="n290"><rect class="s" x="1952.4" y="1281.8"/><text x="1983.2" y="1307">290</text></g>
<g id="n291"><rect class="s" x="1950.2" y="1340.7"/><text x="1980" y="1368">291</text></g>
<g id="n292"><rect class="s" x="2022.8" y="434.4"/><text x="2054.5" y="454">292</text></g>
<g id="n293"><rect class="s" x="2005.8" y="474.6"/><text x="2037" y="492">293</text></g>
<g id="n294"><rect class="o" x="2001.8" y="522.8"/><rect class="i" x="2005.4" y="526.8"/><text x="2036" y="548">294</text></g>
<g id="n295"><rect class="s" x="2026" y="589.3"/><text x="2057.6" y="610">295</text></g>
<g id="n296"><rect class="s" x="2026.8" y="625.4"/><text x="2056.7" y="648">296</text></g>
<g id="n297"><rect class="s" x="2041.8" y="1188.8"/><text x="2069" y="1212">297</text></g>
<g id="n298"><rect class="s" x="2038" y="1264.4"/><text x="2067" y="1286">298</text></g>
<g id="n299"><rect class="s" x="2037" y="1297.6"/><text x="2063.7" y="1321">299</text></g>
<g id="n300"><rect class="s" x="2037" y="1331"/><text x="2063.2" y="1354">300</text></g>
<g id="n301"><rect class="s" x="2037" y="1364.4"/><text x="2063.2" y="1386">301</text></g>
<g id="n302"><rect class="s" x="2038" y="1399"/><text x="2064.3" y="1423">302</text></g>
<g id="n303"><rect class="s" x="2112.5" y="437.5"/><text x="2140.6" y="461">303</text></g>
<g id="n304"><rect class="s" x="2112.5" y="470.5"/><text x="2144.2" y="492">304</text></g>
<g id="n305"><rect class="s" x="2107.6" y="555"/><text x="2137" y="578">305</text></g>
<g id="n306"><rect class="s" x="2108.5" y="591.5"/><text x="2139.3" y="613">306</text></g>
<g id="n307"><rect class="s" x="2104.5" y="784.4"/><text x="2134.8" y="809">307</text></g>
<g id="n308"><rect class="s" x="2107" y="1063.4"/><text x="2138.2" y="1088">308</text></g>
<g id="n309"><rect class="s" x="2107" y="1103.6"/><text x="2137" y="1129">309</text></g>
<g id="n310"><rect class="s" x="2107.7" y="1138.5"/><text x="2139.3" y="1163">310</text></g>
<g id="n311"><rect class="s" x="2107.7" y="1187.5"/><text x="2138.7" y="1210">311</text></g>
<g id="n312"><rect class="s" x="2107.7" y="1219.4"/><text x="2137.7" y="1242">312</text></g>
<g id="n313"><rect class="s" x="2108.7" y="1251.7"/><text x="2138.2" y="1273">313</text></g>
<g id="n314"><rect class="s" x="2108.7" y="1351.7"/><text x="2139.3" y="1375">314</text></g>
<g id="n315"><rect class="s" x="2108.7" y="1385.8"/><text x="2139.3" y="1408">315</text></g>
<g id="n316"><rect class="s" x="2141.5" y="676.8"/><text x="2174" y="695">316</text></g>
<g id="n317"><rect class="s" x="2141.5" y="712.5"/><text x="2171.9" y="736">317</text></g>
<g id="n318"><rect class="s" x="2191.5" y="567.9"/><text x="2220.5" y="587">318</text></g>
<g id="n319"><rect class="s" x="2195" y="620.5"/><text x="2227.2" y="647">319</text></g>
<g id="n320"><rect class="s" x="2190.7" y="1031"/><text x="2220.7" y="1051">320</text></g>
<g id="n321"><rect class="s" x="2188.5" y="1079.6"/><text x="2215.9" y="1104">321</text></g>
<g id="n322"><rect class="s" x="2179.4" y="1228"/><text x="2209.4" y="1248">322</text></g>
<g id="n323"><rect class="s" x="2182" y="1271.8"/><text x="2214.3" y="1295">323</text></g>
<g id="n324"><rect class="s" x="2177.3" y="1346"/><text x="2206.2" y="1364">324</text></g>
<g id="n325"><rect class="s" x="2176.2" y="1379.7"/><text x="2202.5" y="1403">325</text></g>
<g id="n326"><rect class="s" x="2238.8" y="445.5"/><text x="2274" y="471">326</text></g>
<g id="n327"><rect class="s" x="2243.7" y="1028.4"/><text x="2272" y="1051">327</text></g>
<g id="n328"><rect class="s" x="2243.7" y="1063"/><text x="2271" y="1081">328</text></g>
<g id="n329"><rect class="s" x="2243.7" y="1098.3"/><text x="2275.3" y="1115">329</text></g>
<g id="n330"><rect class="s" x="2243.7" y="1133.3"/><text x="2275.3" y="1157">330</text></g>
<g id="n331"><rect class="s" x="2245.3" y="1216.7"/><text x="2274.2" y="1236">331</text></g>
<g id="n332"><rect class="b" x="2243.2" y="1249"/><text x="2272" y="1270">332</text></g>
<g id="n333"><rect class="s" x="2244.2" y="1280.5"/><text x="2274.2" y="1304">333</text></g>
<g id="n334"><rect class="s" x="2245.3" y="1319"/><text x="2276.4" y="1342">334</text></g>
<g id="n335"><rect class="s" x="2245.3" y="1357.8"/><text x="2275.3" y="1382">335</text></g>
<g id="n336"><rect class="s" x="2243.2" y="1412.5"/><text x="2273.2" y="1434">336</text></g>
<g id="n337"><rect class="s" x="2326.3" y="439.7"/><text x="2356.3" y="461">337</text></g>
<g id="n338"><rect class="b" x="2315.6" y="680.8"/><text x="2342.4" y="703">338</text></g>
<g id="n339"><rect class="b" x="2316.5" y="717.9"/><text x="2343.3" y="739">339</text></g>
<g id="n340"><rect class="s" x="2325.7" y="1092.7"/><text x="2356.7" y="1114">340</text></g>
<g id="n341"><rect class="s" x="2325.7" y="1127.6"/><text x="2356.7" y="1148">341</text></g>
<g id="n342"><rect class="s" x="2327.3" y="1224.6"/><text x="2357.8" y="1247">342</text></g>
<g id="n343"><rect class="s" x="2322.4" y="1320.3"/><text x="2348.7" y="1341">343</text></g>
<g id="n344"><rect class="s" x="2320.8" y="1363.5"/><text x="2354" y="1385">344</text></g>
<g id="n345"><rect class="s" x="2395.5" y="482.6"/><text x="2428" y="505">345</text></g>
<g id="n346"><rect class="s" x="2401.3" y="534"/><text x="2435.3" y="561">346</text></g>
<g id="n347"><rect class="b" x="2385.3" y="751.8"/><text x="2417.4" y="775">347</text></g>
<g id="n348"><rect class="s" x="2394.2" y="810.7"/><text x="2430" y="833">348</text></g>
<g id="n349"><rect class="s" x="2394.2" y="846"/><text x="2424.6" y="871">349</text></g>
<g id="n350"><rect class="b" x="2393.3" y="880"/><text x="2424.6" y="901">350</text></g>
<g id="n351"><rect class="s" x="2393.7" y="961.6"/><text x="2428.5" y="986">351</text></g>
<g id="n352"><rect class="s" x="2393.7" y="997"/><text x="2422.6" y="1019">352</text></g>
<g id="n353"><rect class="s" x="2394.7" y="1031.5"/><text x="2428" y="1051">353</text></g>
<g id="n354"><rect class="s" x="2394.7" y="1064.7"/><text x="2428" y="1088">354</text></g>
<g id="n355"><rect class="s" x="2391.5" y="1149.5"/><text x="2421" y="1169">355</text></g>
<g id="n356"><rect class="s" x="2391.5" y="1213.7"/><text x="2424.7" y="1234">356</text></g>
<g id="n357"><rect class="s" x="2391.5" y="1247.3"/><text x="2423.7" y="1267">357</text></g>
<g id="n358"><rect class="s" x="2391.5" y="1280"/><text x="2422.6" y="1303">358</text></g>
<g id="n359"><rect class="s" x="2391.5" y="1313.3"/><text x="2423.7" y="1335">359</text></g>
<g id="n360"><rect class="s" x="2390.5" y="1357.8"/><text x="2422" y="1379">360</text></g>
<g id="n361"><rect class="s" x="2390.5" y="1391.5"/><text x="2420" y="1413">361</text></g>
<g id="n362"><rect class="s" x="2390.5" y="1425.5"/><text x="2423.7" y="1450">362</text></g>
<g id="n363"><rect class="h" x="2309" y="1459.4" transform="rotate(9 2323 1464.4)"/><text class="m" x="2320.3" y="1487">363</text></g>
<g id="n364"><rect class="h" x="2343.3" y="1464.2" transform="rotate(9 2357.3 1469.2)"/><text class="m" x="2355" y="1493">364</text></g>
<g id="n365"><rect class="h" x="2377.5" y="1466.4" transform="rotate(9 2391.5 1471.4)"/><text class="m" x="2387.8" y="1495">365</text></g>
<g id="n366"><rect class="h" x="2409.7" y="1470.8" transform="rotate(9 2423.7 1475.8)"/><text class="m" x="2421.5" y="1498">366</text></g>
<g id="n367"><rect class="h" x="2442.3" y="1475.6" transform="rotate(9 2456.3 1480.6)"/><text class="m" x="2454" y="1502">367</text></g>
<g id="n368"><rect class="h" x="2474" y="1479" transform="rotate(9 2488 1484)"/><text class="m" x="2485.8" y="1507">368</text></g>
<g id="n369"><rect class="h" x="2505.5" y="1484" transform="rotate(9 2519.5 1489)"/><text class="m" x="2517.4" y="1510">369</text></g>
<g id="n370"><rect class="h" x="2537" y="1487.4" transform="rotate(9 2551 1492.4)"/><text class="m" x="2548.5" y="1517">370</text></g>
<g id="n371"><rect class="b" x="2581.7" y="959.4"/><text x="2603.6" y="981">371</text></g>
<g id="n372"><rect class="b" x="2581.7" y="993.5"/><text x="2610.6" y="1015">372</text></g>
<g id="n373"><rect class="b" x="2581.7" y="1025.8"/><text x="2612.2" y="1047">373</text></g>
<g id="n374"><rect class="s" x="2582.2" y="1060.3"/><text x="2612.2" y="1084">374</text></g>
<g id="n375"><rect class="b" x="2581.7" y="1094.8"/><text x="2610.6" y="1116">375</text></g>
<g id="n376"><rect class="b" x="2593.5" y="1157.8"/><text x="2621.9" y="1177">376</text></g>
<g id="n377"><rect class="b" x="2593" y="1188.8"/><text x="2620.2" y="1211">377</text></g>
<g id="n378"><rect class="b" x="2593" y="1220"/><text x="2619.7" y="1242">378</text></g>
<g id="n379"><rect class="b" x="2591.9" y="1267.4"/><text x="2619.7" y="1290">379</text></g>
<g id="n380"><rect class="b" x="2590.2" y="1299.7"/><text x="2620.2" y="1322">380</text></g>
<g id="n381"><rect class="b" x="2591.3" y="1331.2"/><text x="2617.6" y="1353">381</text></g>
<g id="n382"><rect class="b" x="2589.7" y="1368.8"/><text x="2617.6" y="1390">382</text></g>
<g id="n383"><rect class="b" x="2590.2" y="1412"/><text x="2618.7" y="1432">383</text></g>
<g id="n384"><rect class="b" x="2590.2" y="1443"/><text x="2616.5" y="1465">384</text></g>
<g id="n385"><rect class="b" x="2590.2" y="1475.4"/><text x="2616" y="1497">385</text></g>
<g id="n386"><rect x="2657.2" y="1298" width="20.5" height="27.5"/><text x="2699.5" y="1323">386</text></g>
<g id="n387"><rect x="2656.6" y="1332.5" width="22.5" height="27.5"/><text x="2700.6" y="1355">387</text></g>
<g id="n388"><rect class="b" x="2655.6" y="1366"/><text x="2680.2" y="1388">388</text></g>
<g id="n389"><rect class="b" x="2655.6" y="1398.5"/><text x="2677" y="1420">389</text></g>
<g id="n390"><rect class="b" x="2651.3" y="1444"/><text x="2677" y="1465">390</text></g>
<g id="n391"><rect class="b" x="2652.4" y="1475.8"/><text x="2677" y="1498">391</text></g>
</g>
</svg>
